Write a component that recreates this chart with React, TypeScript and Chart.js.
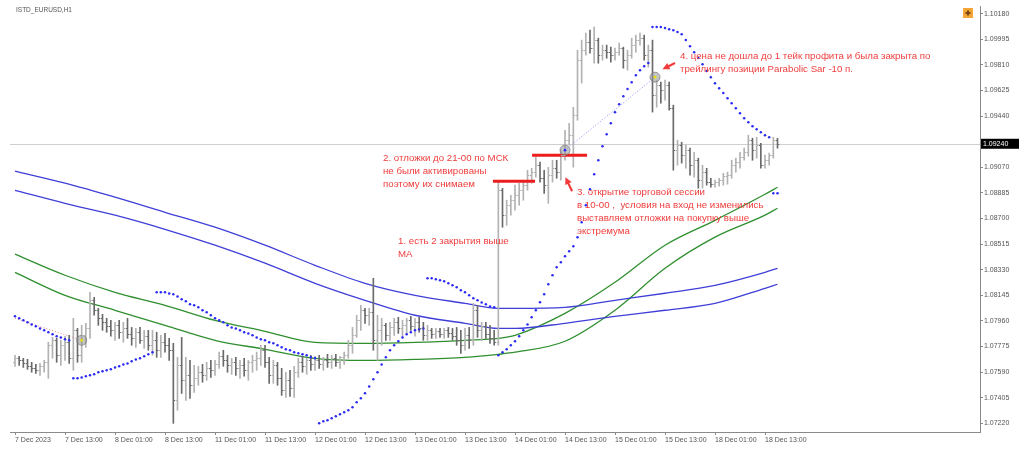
import React, { useEffect, useRef } from "react";
import { Chart, registerables } from "chart.js";

Chart.register(...registerables);

// ---------- DATA (EURUSD H1, bar index 0 = 7 Dec 2023) ----------
const opens = [
  1.07661,1.07690,1.07675,1.07653,1.07632,1.07617,1.07603,1.07632,1.07661,1.07784,1.07820,1.07712,
  1.07784,1.07806,1.07690,1.07892,1.07712,1.07856,1.07906,1.08109,1.08037,1.07979,1.07950,1.07921,
  1.07892,1.07928,1.07878,1.07906,1.07863,1.07834,1.07878,1.07820,1.07849,1.07784,1.07820,1.07748,
  1.07806,1.07784,1.07748,1.07386,1.07639,1.07531,1.07567,1.07495,1.07545,1.07589,1.07567,1.07617,
  1.07603,1.07646,1.07705,1.07675,1.07639,1.07661,1.07617,1.07639,1.07603,1.07661,1.07675,1.07690,
  1.07748,1.07661,1.07567,1.07639,1.07545,1.07458,1.07531,1.07473,1.07589,1.07661,1.07632,1.07675,
  1.07646,1.07675,1.07646,1.07675,1.07661,1.07690,1.07661,1.07697,1.07712,1.07784,1.07856,1.07964,
  1.08037,1.08001,1.08023,1.07820,1.07892,1.07928,1.07856,1.07913,1.07950,1.07906,1.07928,1.07964,
  1.07921,1.07950,1.07906,1.07856,1.07892,1.07863,1.07885,1.07863,1.07892,1.07870,1.07849,1.07820,
  1.07784,1.07856,1.07820,1.08037,1.07892,1.07921,1.07863,1.07834,1.07806,1.08904,1.08724,1.08796,
  1.08832,1.08868,1.08904,1.08941,1.09013,1.09035,1.09085,1.08991,1.08941,1.09013,1.09063,1.09035,
  1.09158,1.09266,1.09302,1.09447,1.09844,1.09916,1.09975,1.09931,1.09989,1.09880,1.09916,1.09902,
  1.09880,1.09902,1.09931,1.09844,1.09880,1.09953,1.09989,1.10003,1.09880,1.09916,1.09591,1.09664,
  1.09627,1.09664,1.09497,1.09194,1.09230,1.09158,1.09194,1.09085,1.09121,1.08977,1.09035,1.08963,
  1.08948,1.08963,1.08977,1.09005,1.09013,1.09085,1.09107,1.09143,1.09179,1.09266,1.09194,1.09230,
  1.09085,1.09121,1.09158,1.09266,
];
const highs = [
  1.07712,1.07705,1.07690,1.07683,1.07661,1.07646,1.07653,1.07675,1.07806,1.07841,1.07834,1.07820,
  1.07849,1.07856,1.07979,1.07906,1.07928,1.07942,1.08167,1.08130,1.08051,1.08008,1.07979,1.07964,
  1.07950,1.07964,1.07950,1.07979,1.07913,1.07906,1.07913,1.07892,1.07892,1.07892,1.07878,1.07856,
  1.07870,1.07834,1.07798,1.07697,1.07841,1.07697,1.07675,1.07639,1.07632,1.07646,1.07661,1.07675,
  1.07675,1.07734,1.07748,1.07712,1.07690,1.07697,1.07675,1.07690,1.07675,1.07712,1.07734,1.07784,
  1.07784,1.07697,1.07675,1.07661,1.07617,1.07589,1.07603,1.07632,1.07690,1.07705,1.07690,1.07712,
  1.07705,1.07712,1.07697,1.07719,1.07712,1.07719,1.07705,1.07734,1.07820,1.07913,1.08001,1.08073,
  1.08051,1.08051,1.08268,1.08001,1.07979,1.07942,1.07950,1.07979,1.07986,1.07964,1.07979,1.07994,
  1.07979,1.07986,1.07950,1.07928,1.07906,1.07906,1.07906,1.07906,1.07913,1.07906,1.07913,1.07892,
  1.07906,1.07913,1.08087,1.08073,1.07950,1.07950,1.07928,1.07892,1.08963,1.08918,1.08832,1.08868,
  1.08941,1.08955,1.08977,1.09049,1.09063,1.09143,1.09107,1.09049,1.09070,1.09121,1.09121,1.09194,
  1.09338,1.09388,1.09504,1.09916,1.09989,1.10039,1.10061,1.10083,1.10003,1.09953,1.09953,1.09938,
  1.09931,1.09967,1.09938,1.09916,1.10003,1.10025,1.10039,1.10025,1.09953,1.09989,1.09700,1.09685,
  1.09700,1.09685,1.09519,1.09266,1.09251,1.09230,1.09208,1.09179,1.09136,1.09085,1.09063,1.08991,
  1.08977,1.08991,1.09027,1.09035,1.09121,1.09136,1.09179,1.09208,1.09302,1.09280,1.09287,1.09244,
  1.09158,1.09172,1.09287,1.09280,
];
const lows = [
  1.07632,1.07639,1.07624,1.07610,1.07589,1.07581,1.07567,1.07589,1.07545,1.07690,1.07661,1.07639,
  1.07675,1.07653,1.07603,1.07661,1.07661,1.07769,1.07834,1.08001,1.07928,1.07892,1.07878,1.07849,
  1.07820,1.07834,1.07806,1.07834,1.07784,1.07769,1.07798,1.07762,1.07748,1.07712,1.07697,1.07697,
  1.07734,1.07675,1.07220,1.07314,1.07436,1.07386,1.07400,1.07444,1.07495,1.07517,1.07531,1.07552,
  1.07567,1.07617,1.07632,1.07589,1.07574,1.07567,1.07545,1.07560,1.07531,1.07589,1.07603,1.07639,
  1.07624,1.07509,1.07509,1.07495,1.07422,1.07407,1.07415,1.07407,1.07552,1.07589,1.07574,1.07603,
  1.07603,1.07617,1.07603,1.07624,1.07617,1.07632,1.07617,1.07646,1.07690,1.07726,1.07841,1.07892,
  1.07942,1.07928,1.07748,1.07675,1.07784,1.07820,1.07820,1.07856,1.07870,1.07841,1.07863,1.07892,
  1.07849,1.07878,1.07820,1.07820,1.07834,1.07834,1.07841,1.07834,1.07841,1.07820,1.07784,1.07726,
  1.07748,1.07762,1.07784,1.07841,1.07820,1.07834,1.07798,1.07784,1.07784,1.08637,1.08651,1.08724,
  1.08760,1.08796,1.08832,1.08904,1.08955,1.08998,1.08963,1.08882,1.08810,1.08963,1.08991,1.08977,
  1.09121,1.09230,1.09071,1.09410,1.09678,1.09880,1.09894,1.09822,1.09822,1.09844,1.09858,1.09830,
  1.09844,1.09880,1.09786,1.09772,1.09858,1.09902,1.09953,1.09844,1.09794,1.09469,1.09504,1.09533,
  1.09555,1.09483,1.09049,1.09085,1.09100,1.09063,1.09013,1.08998,1.08919,1.08919,1.08941,1.08926,
  1.08926,1.08933,1.08941,1.08948,1.08991,1.09035,1.09063,1.09121,1.09150,1.09121,1.09136,1.09063,
  1.09063,1.09085,1.09136,1.09208,
];
const closes = [
  1.07690,1.07675,1.07653,1.07632,1.07617,1.07603,1.07632,1.07661,1.07784,1.07820,1.07712,1.07784,
  1.07806,1.07690,1.07892,1.07712,1.07856,1.07906,1.08109,1.08037,1.07979,1.07950,1.07921,1.07892,
  1.07928,1.07878,1.07906,1.07863,1.07834,1.07878,1.07820,1.07849,1.07784,1.07820,1.07748,1.07806,
  1.07784,1.07748,1.07386,1.07639,1.07531,1.07567,1.07495,1.07545,1.07589,1.07567,1.07617,1.07603,
  1.07646,1.07705,1.07675,1.07639,1.07661,1.07617,1.07639,1.07603,1.07661,1.07675,1.07690,1.07748,
  1.07661,1.07567,1.07639,1.07545,1.07458,1.07531,1.07473,1.07589,1.07661,1.07632,1.07675,1.07646,
  1.07675,1.07646,1.07675,1.07661,1.07690,1.07661,1.07697,1.07712,1.07784,1.07856,1.07964,1.08037,
  1.08001,1.08023,1.07820,1.07892,1.07928,1.07856,1.07913,1.07950,1.07906,1.07928,1.07964,1.07921,
  1.07950,1.07906,1.07856,1.07892,1.07863,1.07885,1.07863,1.07892,1.07870,1.07849,1.07820,1.07784,
  1.07856,1.07820,1.08037,1.07892,1.07921,1.07863,1.07834,1.07806,1.08904,1.08724,1.08796,1.08832,
  1.08868,1.08904,1.08941,1.09013,1.09035,1.09085,1.08991,1.08941,1.09013,1.09063,1.09035,1.09158,
  1.09266,1.09302,1.09447,1.09844,1.09916,1.09975,1.09931,1.09989,1.09880,1.09916,1.09902,1.09880,
  1.09902,1.09931,1.09844,1.09880,1.09953,1.09989,1.10003,1.09880,1.09916,1.09591,1.09664,1.09627,
  1.09664,1.09497,1.09194,1.09230,1.09158,1.09194,1.09085,1.09121,1.08977,1.09035,1.08963,1.08948,
  1.08963,1.08977,1.09005,1.09013,1.09085,1.09107,1.09143,1.09179,1.09266,1.09194,1.09230,1.09085,
  1.09121,1.09158,1.09266,1.09240,
];
// Parabolic SAR, one dot per bar
const sar = [
  1.07994,1.07979,1.07964,1.07950,1.07935,1.07921,1.07906,1.07892,1.07878,1.07863,1.07849,1.07841,
  1.07827,1.07820,1.07545,1.07545,1.07552,1.07560,1.07567,1.07574,1.07589,1.07596,1.07603,1.07610,
  1.07624,1.07632,1.07646,1.07653,1.07668,1.07682,1.07690,1.07705,1.07719,1.07734,1.08167,1.08167,
  1.08167,1.08159,1.08152,1.08137,1.08116,1.08102,1.08080,1.08073,1.08058,1.08037,1.08023,1.08001,
  1.07979,1.07964,1.07950,1.07928,1.07913,1.07906,1.07892,1.07878,1.07870,1.07856,1.07841,1.07827,
  1.07820,1.07806,1.07798,1.07784,1.07769,1.07755,1.07748,1.07734,1.07726,1.07719,1.07712,1.07697,
  1.07690,1.07220,1.07235,1.07242,1.07256,1.07271,1.07285,1.07300,1.07314,1.07336,1.07372,1.07401,
  1.07437,1.07487,1.07538,1.07589,1.07646,1.07697,1.07748,1.07784,1.07813,1.07841,1.07863,1.07878,
  1.07892,1.07899,1.07906,1.08268,1.08268,1.08261,1.08254,1.08246,1.08232,1.08217,1.08203,1.08181,
  1.08167,1.08145,1.08123,1.08109,1.08094,1.08080,1.08065,1.08058,1.07712,1.07734,1.07755,1.07784,
  1.07813,1.07849,1.07892,1.07935,1.07986,1.08037,1.08095,1.08152,1.08225,1.08290,1.08348,1.08384,
  1.08427,1.08463,1.08499,1.08565,1.08673,1.08796,1.08912,1.09020,1.09121,1.09222,1.09309,1.09389,
  1.09468,1.09526,1.09584,1.09635,1.09685,1.09736,1.09772,1.09801,1.09823,1.10083,1.10083,1.10083,
  1.10076,1.10068,1.10061,1.10047,1.10032,1.09989,1.09945,1.09902,1.09859,1.09815,1.09765,1.09721,
  1.09678,1.09642,1.09606,1.09569,1.09533,1.09497,1.09461,1.09425,1.09396,1.09367,1.09345,1.09324,
  1.09302,1.09287,1.08883,1.08883,
];
// Moving averages, read at these bar indices
const maIdx = [0, 12, 24, 36, 48, 60, 72, 84, 96, 108, 116, 120, 132, 144, 156, 168, 180, 183];
const maBlueUpper = [1.09042,1.08955,1.08854,1.08745,1.08637,1.08507,1.08362,1.08232,1.08145,1.08087,1.08051,1.08051,1.08058,1.08109,1.08160,1.08217,1.08311,1.08340];
const maBlueLower = [1.08904,1.08810,1.08724,1.08622,1.08507,1.08377,1.08232,1.08109,1.08001,1.07943,1.07906,1.07906,1.07943,1.07993,1.08037,1.08087,1.08196,1.08225];
const maGreenUpper = [1.08442,1.08290,1.08167,1.08073,1.07964,1.07885,1.07805,1.07798,1.07805,1.07820,1.07834,1.07856,1.08015,1.08239,1.08507,1.08687,1.08875,1.08926];
const maGreenLower = [1.08311,1.08145,1.08037,1.07928,1.07820,1.07755,1.07690,1.07675,1.07682,1.07697,1.07719,1.07734,1.07813,1.08037,1.08340,1.08565,1.08724,1.08774];

// Trades and levels
const markerIdx = [16, 132, 153.6];
const markerPrice = [1.07820, 1.09194, 1.09721];
const tradeRedIdx = [0, 16];
const tradeRedPrice = [1.07979, 1.07820];
const tradeBlueIdx = [132, 153.6];
const tradeBluePrice = [1.09194, 1.09721];
const levelAIdx = [114.7, 124.8];
const levelAPrice = [1.08969, 1.08969];
const levelBIdx = [124.1, 137.3];
const levelBPrice = [1.09157, 1.09157];
const arrowTailIdx = [133.7, 158.4];
const arrowTailPrice = [1.08897, 1.09823];
const arrowTipIdx = [132.1, 155.4];
const arrowTipPrice = [1.08998, 1.09779];
const currentPrice = 1.0924;

const xTickIdx = [0, 12, 24, 36, 48, 60, 72, 84, 96, 108, 120, 132, 144, 156, 168, 180];
const xTickLabels = [
  "7 Dec 2023", "7 Dec 13:00", "8 Dec 01:00", "8 Dec 13:00", "11 Dec 01:00", "11 Dec 13:00",
  "12 Dec 01:00", "12 Dec 13:00", "13 Dec 01:00", "13 Dec 13:00", "14 Dec 01:00", "14 Dec 13:00",
  "15 Dec 01:00", "15 Dec 13:00", "18 Dec 01:00", "18 Dec 13:00",
];
const yTicks = [
  1.0722, 1.07405, 1.0759, 1.07775, 1.0796, 1.08145, 1.0833, 1.08515, 1.087, 1.08885, 1.0907,
  1.0944, 1.09625, 1.0981, 1.09995, 1.1018,
];

const notes = [
  { x: 398, y: 241, lines: ["1. есть 2 закрытия выше", "МА"] },
  { x: 383, y: 158, lines: ["2. отложки до 21-00 по МСК", "не были активированы", "поэтому их снимаем"] },
  { x: 577, y: 192, lines: ["3. открытие торговой сессии", "в 10-00 ,  условия на вход не изменились", "выставляем отложки на покупку выше", "экстремума"] },
  { x: 680, y: 56, lines: ["4. цена не дошла до 1 тейк профита и была закрыта по", "трейлингу позиции Parabolic Sar -10 п."] },
];

const UP = "#b2b2b2";
const DOWN = "#6a6a6a";
const RED = "#f03c3c";
const FONT = "'Liberation Sans', Arial, sans-serif";

const pts = (xs: number[], ys: number[]) => xs.map((x, i) => ({ x, y: ys[i] }));

export default function App() {
  const ref = useRef<HTMLCanvasElement>(null);

  useEffect(() => {
    const canvas = ref.current as HTMLCanvasElement;

    const overlay = {
      id: "overlay",
      beforeDatasetsDraw(chart: any) {
        const { ctx, chartArea, scales } = chart;
        const yp = Math.round(scales.y.getPixelForValue(currentPrice)) + 0.5;
        ctx.save();
        ctx.strokeStyle = "#cfcfcf";
        ctx.lineWidth = 1;
        ctx.beginPath();
        ctx.moveTo(chartArea.left, yp);
        ctx.lineTo(chartArea.right, yp);
        ctx.stroke();
        ctx.restore();
      },
      afterDatasetsDraw(chart: any) {
        const { ctx, scales } = chart;
        const x = scales.x, y = scales.y;
        ctx.save();
        ctx.lineWidth = 1;
        for (let i = 0; i < opens.length; i++) {
          const px = x.getPixelForValue(i);
          const yo = Math.round(y.getPixelForValue(opens[i])) + 0.5;
          const yc = Math.round(y.getPixelForValue(closes[i])) + 0.5;
          ctx.strokeStyle = closes[i] >= opens[i] ? UP : DOWN;
          ctx.beginPath();
          ctx.moveTo(px - 1.8, yo);
          ctx.lineTo(px, yo);
          ctx.moveTo(px, yc);
          ctx.lineTo(px + 1.8, yc);
          ctx.stroke();
        }
        // arrows
        ctx.fillStyle = RED;
        ctx.strokeStyle = RED;
        for (let k = 0; k < arrowTipIdx.length; k++) {
          const tx = x.getPixelForValue(arrowTailIdx[k]);
          const ty = y.getPixelForValue(arrowTailPrice[k]);
          const hx = x.getPixelForValue(arrowTipIdx[k]);
          const hy = y.getPixelForValue(arrowTipPrice[k]);
          const ang = Math.atan2(hy - ty, hx - tx);
          ctx.lineWidth = 2.2;
          ctx.beginPath();
          ctx.moveTo(tx, ty);
          ctx.lineTo(hx - 4 * Math.cos(ang), hy - 4 * Math.sin(ang));
          ctx.stroke();
          ctx.beginPath();
          ctx.moveTo(hx, hy);
          ctx.lineTo(hx - 7 * Math.cos(ang) + 3.5 * Math.sin(ang), hy - 7 * Math.sin(ang) - 3.5 * Math.cos(ang));
          ctx.lineTo(hx - 7 * Math.cos(ang) - 3.5 * Math.sin(ang), hy - 7 * Math.sin(ang) + 3.5 * Math.cos(ang));
          ctx.closePath();
          ctx.fill();
        }
        ctx.restore();
      },
      afterDraw(chart: any) {
        const { ctx, scales, chartArea } = chart;
        ctx.save();
        // header
        ctx.fillStyle = "#555";
        ctx.font = `6.5px ${FONT}`;
        ctx.textBaseline = "middle";
        ctx.textAlign = "left";
        ctx.fillText("ISTD_EURUSD,H1", 16, 10);
        // icon
        ctx.fillStyle = "#f3a536";
        ctx.fillRect(963, 8, 10, 10);
        ctx.fillStyle = "#7a4a10";
        ctx.fillRect(967, 10.5, 2, 5);
        ctx.fillRect(965.5, 12, 5, 2);
        // price box
        const yp = scales.y.getPixelForValue(currentPrice);
        ctx.fillStyle = "#000";
        ctx.fillRect(chartArea.right + 1, yp - 5, 38, 10);
        ctx.fillStyle = "#fff";
        ctx.font = `7px ${FONT}`;
        ctx.fillText(currentPrice.toFixed(5), chartArea.right + 3, yp + 0.5);
        // annotations
        ctx.fillStyle = RED;
        ctx.font = `9.7px ${FONT}`;
        for (const n of notes) {
          n.lines.forEach((t, j) => ctx.fillText(t, n.x, n.y + j * 13));
        }
        ctx.restore();
      },
    };

    const chart = new Chart(canvas, {
      type: "line",
      data: {
        datasets: [
          {
            type: "scatter",
            data: pts(markerIdx, markerPrice),
            pointRadius: 1.4,
            pointBackgroundColor: ["#e6e000", "#2b2bff", "#e6e000"],
            pointBorderWidth: 0,
            order: 0,
          },
          {
            type: "scatter",
            data: pts(markerIdx, markerPrice),
            pointRadius: 5,
            pointBackgroundColor: "rgba(150,150,150,0.55)",
            pointBorderColor: "rgba(120,120,120,0.7)",
            pointBorderWidth: 1,
            order: 1,
          },
          {
            type: "line",
            data: pts(levelAIdx, levelAPrice),
            borderColor: "#ee1d1d",
            borderWidth: 3,
            pointRadius: 0,
            order: 2,
          },
          {
            type: "line",
            data: pts(levelBIdx, levelBPrice),
            borderColor: "#ee1d1d",
            borderWidth: 3,
            pointRadius: 0,
            order: 2,
          },
          {
            type: "line",
            data: sar.map((v, i) => ({ x: i, y: v })),
            showLine: false,
            pointRadius: 1.25,
            pointBackgroundColor: "#2a2af5",
            pointBorderWidth: 0,
            order: 3,
          },
          {
            type: "bar",
            data: highs.map((h, i) => ({ x: i, y: [lows[i], h] })),
            backgroundColor: closes.map((c, i) => (c >= opens[i] ? UP : DOWN)),
            barThickness: 1,
            borderWidth: 0,
            grouped: false,
            order: 4,
          },
          {
            type: "line",
            data: pts(maIdx, maBlueUpper),
            borderColor: "#3f3fd8",
            borderWidth: 1.3,
            pointRadius: 0,
            cubicInterpolationMode: "monotone",
            order: 5,
          },
          {
            type: "line",
            data: pts(maIdx, maBlueLower),
            borderColor: "#3f3fd8",
            borderWidth: 1.3,
            pointRadius: 0,
            cubicInterpolationMode: "monotone",
            order: 5,
          },
          {
            type: "line",
            data: pts(maIdx, maGreenUpper),
            borderColor: "#2f8f2f",
            borderWidth: 1.3,
            pointRadius: 0,
            cubicInterpolationMode: "monotone",
            order: 5,
          },
          {
            type: "line",
            data: pts(maIdx, maGreenLower),
            borderColor: "#2f8f2f",
            borderWidth: 1.3,
            pointRadius: 0,
            cubicInterpolationMode: "monotone",
            order: 5,
          },
          {
            type: "line",
            data: pts(tradeRedIdx, tradeRedPrice),
            borderColor: "#f08080",
            borderWidth: 1,
            borderDash: [1, 2],
            pointRadius: 0,
            order: 6,
          },
          {
            type: "line",
            data: pts(tradeBlueIdx, tradeBluePrice),
            borderColor: "#8a8aff",
            borderWidth: 1,
            borderDash: [1, 2],
            pointRadius: 0,
            order: 6,
          },
        ] as any,
      },
      options: {
        responsive: false,
        animation: false,
        events: [],
        layout: { padding: { left: 10, top: 5, right: 0, bottom: 0 } },
        plugins: { legend: { display: false }, tooltip: { enabled: false } },
        scales: {
          x: {
            type: "linear",
            min: -1.2,
            max: 231.6,
            offset: false,
            grid: { drawOnChartArea: false, drawTicks: true, tickLength: 3, color: "#888", offset: false },
            border: { display: true, color: "#8a8a8a", width: 1 },
            ticks: {
              autoSkip: false,
              maxRotation: 0,
              minRotation: 0,
              align: "start",
              padding: 1,
              color: "#555",
              font: { family: FONT, size: 7 },
              callback: (v: any) => {
                const k = xTickIdx.indexOf(Number(v));
                return k >= 0 ? xTickLabels[k] : "";
              },
            },
            afterBuildTicks: (s: any) => {
              s.ticks = xTickIdx.map((v) => ({ value: v }));
            },
            afterFit: (s: any) => {
              s.height = 26;
            },
          },
          y: {
            type: "linear",
            position: "right",
            min: 1.071574,
            max: 1.102355,
            beginAtZero: false,
            grid: { drawOnChartArea: false, drawTicks: true, tickLength: 3, color: "#888" },
            border: { display: true, color: "#8a8a8a", width: 1 },
            ticks: {
              padding: 1,
              color: "#555",
              font: { family: FONT, size: 7 },
              callback: (v: any) => Number(v).toFixed(5),
            },
            afterBuildTicks: (s: any) => {
              s.ticks = yTicks.map((v) => ({ value: v }));
            },
            afterFit: (s: any) => {
              s.width = 44;
            },
          },
        },
      } as any,
      plugins: [overlay],
    });

    return () => chart.destroy();
  }, []);

  return (
    <div style={{ position: "fixed", left: 0, top: 0, width: 1024, height: 458, background: "#fff" }}>
      <canvas ref={ref} width={1024} height={458} style={{ display: "block", width: 1024, height: 458 }} />
    </div>
  );
}
